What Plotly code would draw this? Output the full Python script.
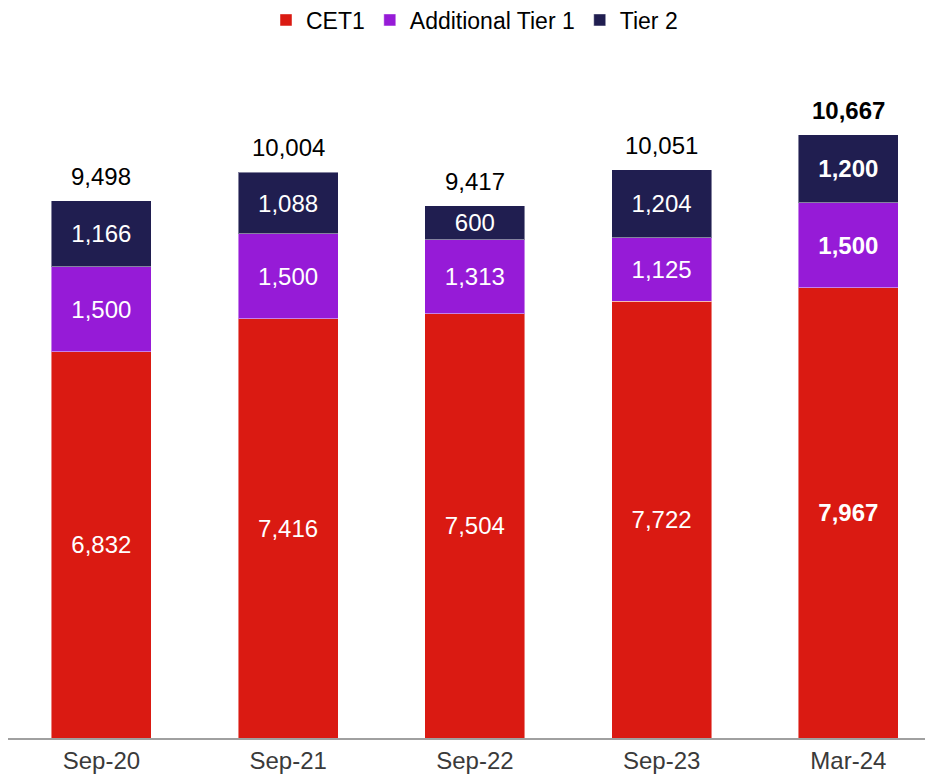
import plotly.graph_objects as go

categories = ["Sep-20", "Sep-21", "Sep-22", "Sep-23", "Mar-24"]
cet1 = [6832, 7416, 7504, 7722, 7967]
at1 = [1500, 1500, 1313, 1125, 1500]
tier2 = [1166, 1088, 600, 1204, 1200]
totals = [9498, 10004, 9417, 10051, 10667]

FONT = "Liberation Sans, Arial, sans-serif"
RED = "#DA1A12"
PURPLE = "#961BD7"
NAVY = "#201E50"
FS = 24


def labels(vals):
    out = []
    for i, v in enumerate(vals):
        s = f"{v:,}"
        out.append(f"<b>{s}</b>" if i == len(vals) - 1 else s)
    return out


fig = go.Figure()
for name, vals, col in [("CET1", cet1, RED), ("Additional Tier 1", at1, PURPLE), ("Tier 2", tier2, NAVY)]:
    fig.add_trace(go.Bar(
        x=categories, y=vals, name=name,
        marker=dict(color=col, line=dict(color="rgba(255,255,255,0.45)", width=1)),
        text=labels(vals), textposition="inside", insidetextanchor="middle",
        textangle=0, textfont=dict(color="white", size=FS, family=FONT),
        hoverinfo="skip",
    ))

for c, t, lab in zip(categories, totals, labels(totals)):
    fig.add_annotation(x=c, y=t, text=lab, showarrow=False, yanchor="bottom",
                       yshift=9, font=dict(color="black", size=FS, family=FONT))

fig.update_layout(
    width=933, height=781,
    barmode="stack", bargap=0.465,
    plot_bgcolor="white", paper_bgcolor="white",
    margin=dict(l=0, r=0, t=72, b=51),
    font=dict(family=FONT, size=FS, color="#222222"),
    legend=dict(orientation="h", x=0.5, xanchor="center", y=1 - 12 / 781, yref="container",
                yanchor="middle", traceorder="normal", font=dict(size=23, color="black"),
                itemwidth=30),
    xaxis=dict(range=[-0.5, 4.496], showline=True, linecolor="#A0A0A0", linewidth=2,
               ticks="", tickfont=dict(size=FS, color="#3A3A3A"), showgrid=False),
    yaxis=dict(range=[0, 11638], visible=False, showgrid=False),
    uniformtext=dict(minsize=FS, mode="show"),
)

fig.write_html("out.html")
